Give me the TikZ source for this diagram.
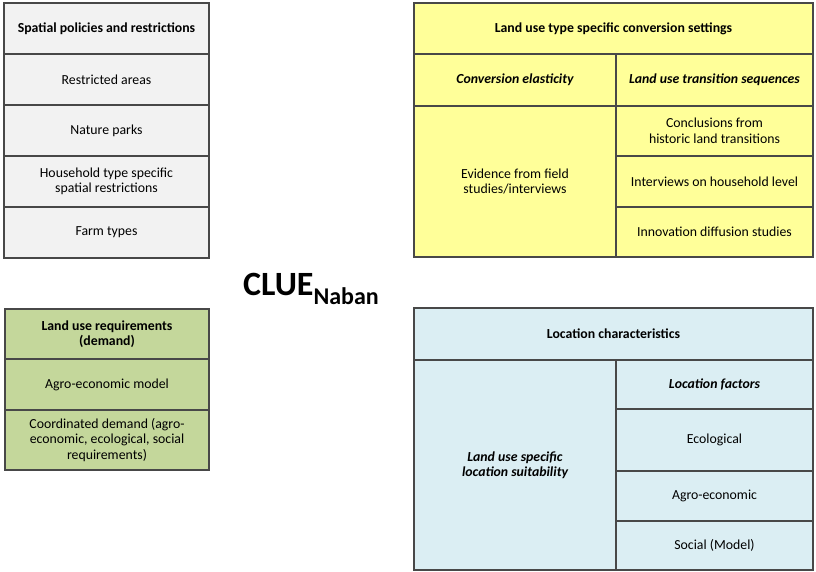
\documentclass[tikz,border=0pt]{standalone}
\usepackage{fontspec}
\setmainfont{Carlito}
\usetikzlibrary{positioning}
\definecolor{framegray}{HTML}{484848}
\definecolor{policygray}{HTML}{F2F2F2}
\definecolor{settingyellow}{HTML}{FFFF99}
\definecolor{demandgreen}{HTML}{C4D79B}
\definecolor{locationblue}{HTML}{DBEEF3}
\tikzset{
  cell/.style={draw=framegray, line width=1.3pt, rectangle, outer sep=0pt, inner sep=2pt, align=center, font=\fontsize{13.8}{15.5}\selectfont},
  headcell/.style={cell, font=\fontsize{13.8}{15.5}\selectfont\bfseries},
  subcell/.style={cell, font=\fontsize{13.8}{15.5}\selectfont\bfseries\itshape},
  title/.style={inner sep=0pt, font=\fontsize{34}{34}\selectfont\bfseries}
}

\begin{document}
\begin{tikzpicture}[x=1pt,y=-1pt]
    \useasboundingbox (0,0) rectangle (816,571);

    % spatial policies
    \node[headcell, fill=policygray, minimum width=205, minimum height=51, anchor=north west] (spatial) at (4,3) {Spatial policies and restrictions};
    \node[cell, fill=policygray, minimum width=205, minimum height=51, below=0pt of spatial] (restricted) {Restricted areas};
    \node[cell, fill=policygray, minimum width=205, minimum height=51, below=0pt of restricted] (parks) {Nature parks};
    \node[cell, fill=policygray, minimum width=205, minimum height=51, below=0pt of parks] (household) {Household type specific\\spatial restrictions};
    \node[cell, fill=policygray, minimum width=205, minimum height=51, below=0pt of household] (farm) {Farm types};

    % conversion settings
    \node[headcell, fill=settingyellow, minimum width=399, minimum height=51, anchor=north west] (conv) at (414,3) {Land use type specific conversion settings};
    \node[subcell, fill=settingyellow, minimum width=202, minimum height=52, anchor=north west] (elast) at (conv.south west) {Conversion elasticity};
    \node[subcell, fill=settingyellow, minimum width=197, minimum height=52, anchor=north west] (trans) at (elast.north east) {Land use transition sequences};
    \node[cell, fill=settingyellow, minimum width=202, minimum height=151, below=0pt of elast] (evidence) {Evidence from field\\studies/interviews};
    \node[cell, fill=settingyellow, minimum width=197, minimum height=50, below=0pt of trans] (historic) {Conclusions from\\historic land transitions};
    \node[cell, fill=settingyellow, minimum width=197, minimum height=51, below=0pt of historic] (interviews) {Interviews on household level};
    \node[cell, fill=settingyellow, minimum width=197, minimum height=50, below=0pt of interviews] (diffusion) {Innovation diffusion studies};

    % model name
    \node[title, anchor=base west] (clue) at (243,295) {CLUE\raisebox{-9pt}{\fontsize{24}{24}\selectfont Naban}};

    % demand
    \node[headcell, fill=demandgreen, minimum width=204, minimum height=50, anchor=north west] (demand) at (5,309) {Land use requirements\\(demand)};
    \node[cell, fill=demandgreen, minimum width=204, minimum height=51, below=0pt of demand] (agromodel) {Agro-economic model};
    \node[cell, fill=demandgreen, minimum width=204, minimum height=60, below=0pt of agromodel] (coord) {Coordinated demand (agro-\\economic, ecological, social\\requirements)};

    % location
    \node[headcell, fill=locationblue, minimum width=399, minimum height=52, anchor=north west] (loc) at (414,308) {Location characteristics};
    \node[subcell, fill=locationblue, minimum width=202, minimum height=210, anchor=north west] (suit) at (loc.south west) {Land use specific\\location suitability};
    \node[subcell, fill=locationblue, minimum width=197, minimum height=49, anchor=north west] (factors) at (suit.north east) {Location factors};
    \node[cell, fill=locationblue, minimum width=197, minimum height=62, below=0pt of factors] (eco) {Ecological};
    \node[cell, fill=locationblue, minimum width=197, minimum height=50, below=0pt of eco] (agro) {Agro-economic};
    \node[cell, fill=locationblue, minimum width=197, minimum height=49, below=0pt of agro] (social) {Social (Model)};
\end{tikzpicture}
\end{document}
